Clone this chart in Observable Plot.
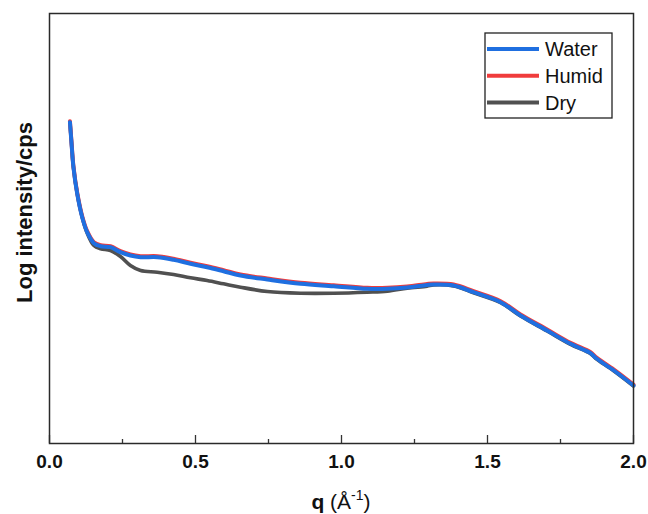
<!DOCTYPE html>
<html>
<head>
<meta charset="utf-8">
<script src="https://cdn.jsdelivr.net/npm/d3@7"></script>
<script src="https://cdn.jsdelivr.net/npm/@observablehq/plot@0.6"></script>
<style>
  html, body { margin: 0; padding: 0; background: #fff; }
</style>
</head>
<body>
<div id="chart"></div>
<script>
// q values (Å^-1)
const q = [0.070, 0.075, 0.082, 0.095, 0.112, 0.129, 0.152, 0.175, 0.209, 0.243, 0.277, 0.312, 0.369, 0.425, 0.483, 0.540, 0.596, 0.654, 0.746, 0.860, 0.973, 1.088, 1.157, 1.225, 1.293, 1.315, 1.384, 1.452, 1.545, 1.613, 1.704, 1.784, 1.853, 1.870, 1.933, 2.000];
// log intensity (arbitrary units)
const water = [3.213, 3.020, 2.763, 2.497, 2.263, 2.113, 2.003, 1.973, 1.963, 1.913, 1.880, 1.863, 1.863, 1.837, 1.797, 1.763, 1.723, 1.680, 1.640, 1.597, 1.573, 1.547, 1.547, 1.560, 1.585, 1.590, 1.580, 1.513, 1.413, 1.280, 1.130, 0.997, 0.903, 0.857, 0.730, 0.580];
const humid = [3.222, 3.029, 2.772, 2.506, 2.273, 2.123, 2.013, 1.983, 1.973, 1.923, 1.890, 1.873, 1.873, 1.847, 1.807, 1.773, 1.733, 1.690, 1.650, 1.607, 1.583, 1.557, 1.557, 1.570, 1.595, 1.600, 1.590, 1.523, 1.423, 1.290, 1.140, 1.007, 0.913, 0.867, 0.740, 0.590];
const dry   = [3.213, 3.020, 2.763, 2.497, 2.263, 2.105, 1.980, 1.947, 1.930, 1.870, 1.780, 1.730, 1.713, 1.690, 1.657, 1.630, 1.597, 1.563, 1.520, 1.503, 1.503, 1.513, 1.523, 1.553, 1.573, 1.585, 1.575, 1.508, 1.408, 1.275, 1.125, 0.992, 0.898, 0.852, 0.725, 0.575];

const seriesNames = ["Water", "Humid", "Dry"];
const seriesColors = ["#1f6fe0", "#f03c3c", "#505050"];
const majorTicks = [0, 0.5, 1.0, 1.5, 2.0];
const minorTicks = [0.25, 0.75, 1.25, 1.75];
const yLabel = "Log intensity/cps";

const toRows = (vals) => q.map((x, i) => ({q: x, v: vals[i]}));
const rows = {Water: toRows(water), Humid: toRows(humid), Dry: toRows(dry)};

const W = 648, H = 514;
const mL = 49, mR = 15, mT = 13, mB = 71;
const innerH = H - mT - mB;
const font = "'Liberation Sans', Arial, Helvetica, sans-serif";

const plot = Plot.plot({
  width: W,
  height: H,
  marginLeft: mL,
  marginRight: mR,
  marginTop: mT,
  marginBottom: mB,
  style: {fontFamily: font, fontSize: "19px", fontWeight: "bold", color: "#111", background: "#fff"},
  x: {domain: [0, 2], axis: null},
  y: {domain: [0, 4.3], axis: null},
  marks: [
    Plot.line(rows.Dry, {x: "q", y: "v", stroke: seriesColors[2], strokeWidth: 3.6, curve: "catmull-rom"}),
    Plot.line(rows.Humid, {x: "q", y: "v", stroke: seriesColors[1], strokeWidth: 4, curve: "catmull-rom"}),
    Plot.line(rows.Water, {x: "q", y: "v", stroke: seriesColors[0], strokeWidth: 4, curve: "catmull-rom"}),
    Plot.tickX(majorTicks, {x: d => d, insetTop: innerH - 8, stroke: "#333", strokeWidth: 1.3}),
    Plot.tickX(minorTicks, {x: d => d, insetTop: innerH - 4, stroke: "#333", strokeWidth: 1.3}),
    Plot.axisX({ticks: majorTicks, tickSize: 0, tickPadding: 11, tickFormat: d => d.toFixed(1), fontSize: 19, label: null}),
    Plot.frame({stroke: "#2a2a2a", strokeWidth: 1.5}),
    Plot.text([yLabel], {text: d => d, frameAnchor: "left", rotate: -90, dx: -25, dy: -16,
      textAnchor: "middle", lineAnchor: "middle", fontSize: 22, fontWeight: "bold"})
  ]
});

const svg = d3.select(plot);

// x axis label with superscript
const xl = svg.append("text")
  .attr("x", (mL + W - mR) / 2)
  .attr("y", 509)
  .attr("text-anchor", "middle")
  .attr("font-family", font)
  .attr("font-size", 21)
  .attr("fill", "#111");
xl.append("tspan").attr("font-weight", "bold").text("q");
xl.append("tspan").attr("font-weight", "normal").text(" (Å");
xl.append("tspan").attr("font-weight", "normal").attr("font-size", 14).attr("dy", -9).text("-1");
xl.append("tspan").attr("font-weight", "normal").attr("dy", 9).text(")");

// legend
const lg = svg.append("g").attr("font-family", font).attr("font-weight", "normal").attr("text-anchor", "start");
lg.append("rect")
  .attr("x", 485).attr("y", 33).attr("width", 127).attr("height", 85)
  .attr("fill", "#fff").attr("stroke", "#222").attr("stroke-width", 1.3);
seriesNames.forEach((name, i) => {
  const yy = 49 + i * 26.8;
  lg.append("line")
    .attr("x1", 487).attr("x2", 539).attr("y1", yy).attr("y2", yy)
    .attr("stroke", seriesColors[i]).attr("stroke-width", 4);
  lg.append("text")
    .attr("x", 545).attr("y", yy + 7)
    .attr("text-anchor", "start")
    .attr("font-size", 20).attr("fill", "#111")
    .text(name);
});

document.getElementById("chart").appendChild(plot);
</script>
</body>
</html>
